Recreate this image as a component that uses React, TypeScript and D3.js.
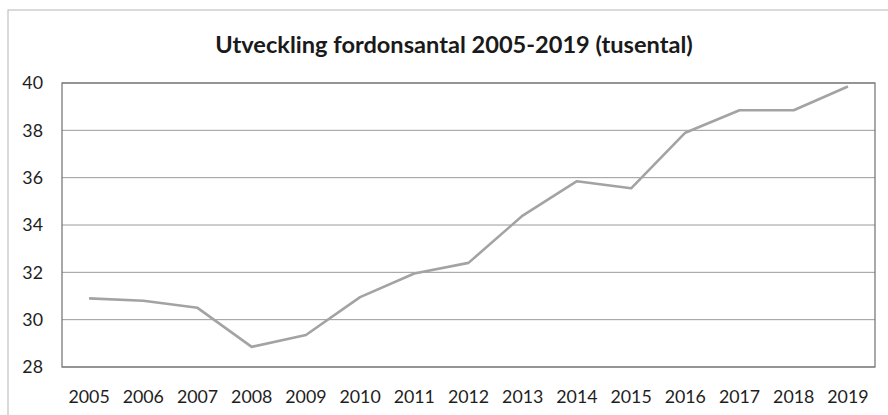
import { useEffect, useRef } from "react";
import * as d3 from "d3";

const years = [
  "2005", "2006", "2007", "2008", "2009", "2010", "2011", "2012",
  "2013", "2014", "2015", "2016", "2017", "2018", "2019",
];
const vehicles = [
  30.9, 30.8, 30.5, 28.85, 29.35, 30.95, 31.95, 32.4,
  34.4, 35.85, 35.55, 37.9, 38.85, 38.85, 39.85,
];
const yTicks = [28, 30, 32, 34, 36, 38, 40];
const title = "Utveckling fordonsantal 2005-2019 (tusental)";

const W = 888;
const H = 415;
const margins = { top: 83, right: 13, bottom: 48, left: 62 };
const innerW = W - margins.left - margins.right;
const innerH = H - margins.top - margins.bottom;
const font = "Lato, 'Open Sans', sans-serif";

export default function App() {
  const axesRef = useRef<SVGGElement>(null);

  const xScale = d3.scaleBand<string>().domain(years).range([0, innerW]);
  const yScale = d3.scaleLinear().domain([28, 40]).range([innerH, 0]);

  useEffect(() => {
    const g = d3.select(axesRef.current);
    g.selectAll("*").remove();

    const xAxis = g
      .append("g")
      .attr("transform", `translate(0,${innerH})`)
      .call(d3.axisBottom(xScale).tickSize(0).tickPadding(23));
    xAxis.select(".domain").remove();

    const yAxis = g
      .append("g")
      .call(d3.axisLeft(yScale).tickValues(yTicks).tickSize(0).tickPadding(19));
    yAxis.select(".domain").remove();

    g.selectAll(".tick text")
      .attr("font-family", font)
      .attr("font-size", 17.8)
      .attr("fill", "#1e1e1e");
  }, []);

  const line = d3
    .line<number>()
    .x((_, i) => (xScale(years[i]) ?? 0) + xScale.bandwidth() / 2)
    .y((d) => yScale(d));

  return (
    <svg
      width={W}
      height={H}
      style={{ position: "absolute", left: 0, top: 0, background: "#fff" }}
    >
      <rect x={8} y={10} width={W} height={H} fill="#fff" stroke="#b5b5b5" strokeWidth={1} />
      <text
        x={454}
        y={53}
        textAnchor="middle"
        fontFamily={font}
        fontWeight="bold"
        fontSize={23.6}
        fill="#1a1a1a"
      >
        {title}
      </text>
      <g transform={`translate(${margins.left},${margins.top})`}>
        {yTicks.map((t) => (
          <line
            key={t}
            x1={0}
            x2={innerW}
            y1={yScale(t)}
            y2={yScale(t)}
            stroke="#9a9a9a"
            strokeWidth={1}
          />
        ))}
        <rect x={0} y={0} width={innerW} height={innerH} fill="none" stroke="#707070" strokeWidth={1.2} />
        <path d={line(vehicles) ?? ""} fill="none" stroke="#a3a3a3" strokeWidth={2.6} strokeLinejoin="round" />
      </g>
      <g ref={axesRef} transform={`translate(${margins.left},${margins.top})`} />
    </svg>
  );
}
